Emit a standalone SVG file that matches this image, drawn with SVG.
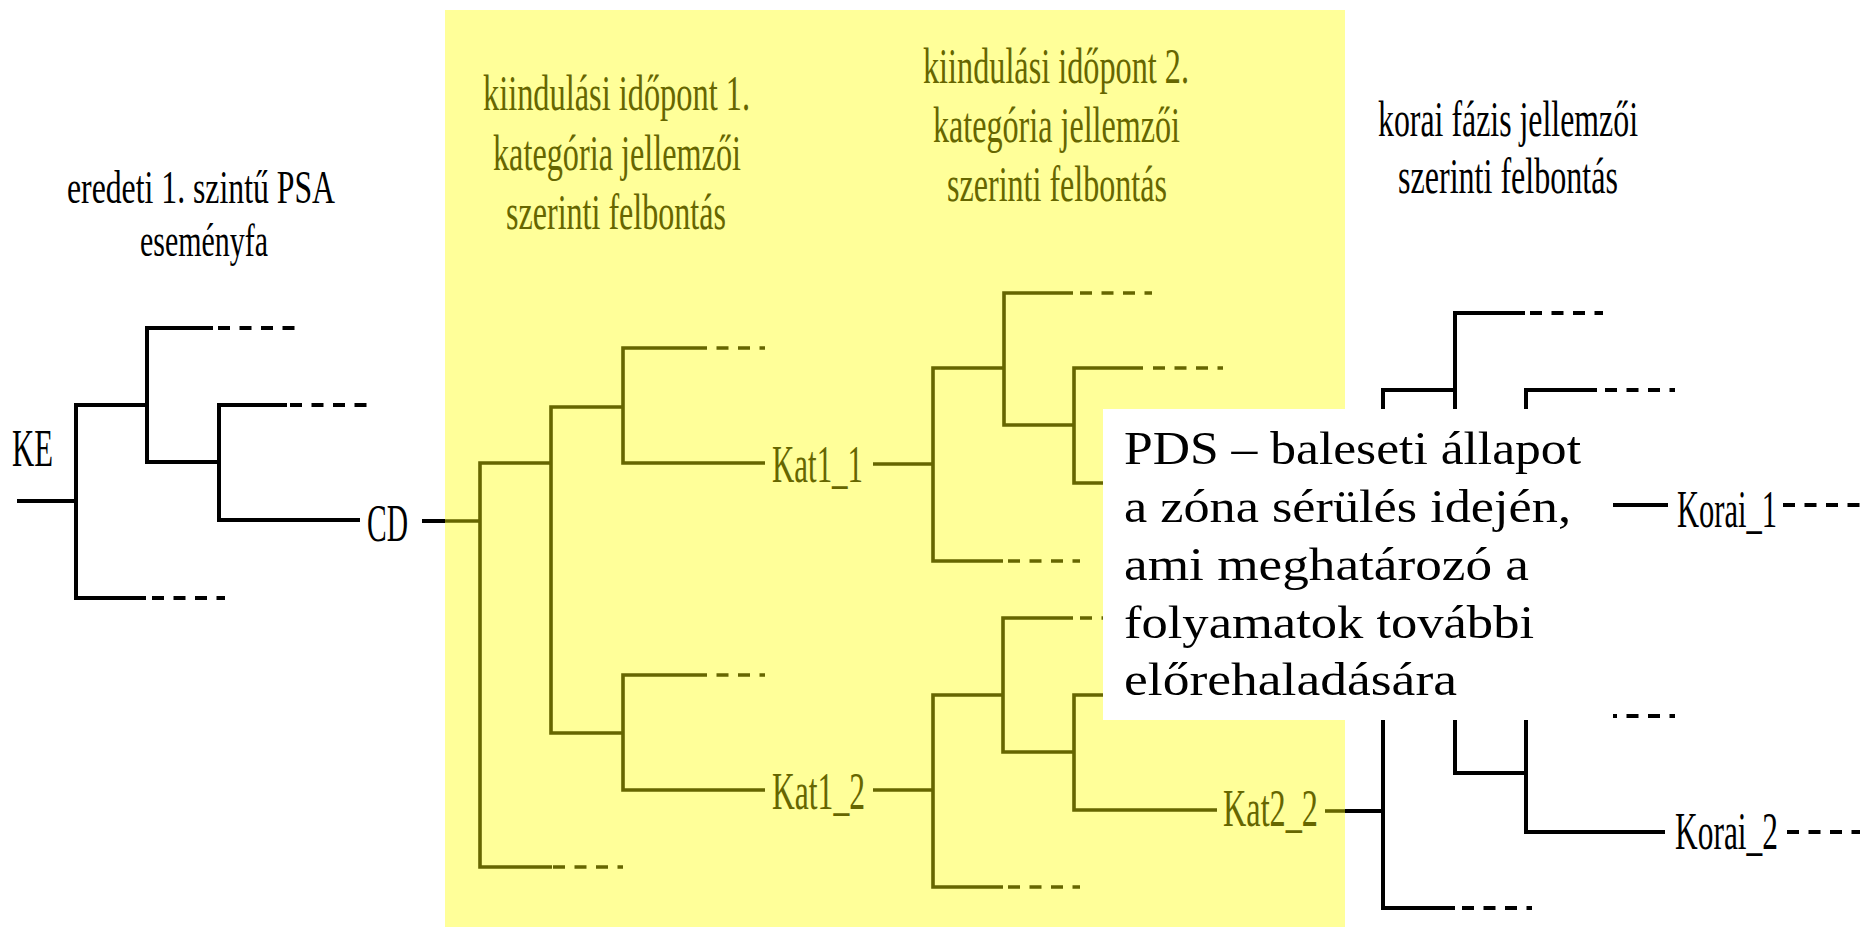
<svg xmlns="http://www.w3.org/2000/svg" width="1860" height="927" viewBox="0 0 1860 927">
<style>
  .k{fill:none;stroke:#000;stroke-width:4;stroke-linejoin:miter}
  .o{fill:none;stroke:#666600;stroke-width:3.6;stroke-linejoin:miter}
  .kd{fill:none;stroke:#000;stroke-width:4;stroke-dasharray:12 9.5}
  .od{fill:none;stroke:#666600;stroke-width:3.6;stroke-dasharray:12 9.5}
  text{font-family:"Liberation Serif","Times New Roman",serif}
  .tk{fill:#000}
  .to{fill:#666600}
  .title{font-size:51px}
  .lbl{font-size:53px}
  .box{font-size:47px;fill:#000}
</style>
<rect id="panel" x="445" y="10" width="900" height="917" fill="#FFFF99"/>

<g id="connectors">
  <!-- left black tree -->
  <path class="k" d="M17,501 H76"/>
  <path class="k" d="M147,405 H76 V598 H146"/>
  <path class="kd" d="M152,598 H225"/>
  <path class="k" d="M213,328 H147 V462 H219"/>
  <path class="kd" d="M218,328 H295"/>
  <path class="k" d="M287,405 H219 V520 H360"/>
  <path class="kd" d="M290,405 H367"/>
  <path class="k" d="M422,521 H445"/>
  <!-- olive tree 1 -->
  <path class="o" d="M445,521 H480"/>
  <path class="o" d="M551,463 H480 V867 H552"/>
  <path class="od" d="M553,867 H623"/>
  <path class="o" d="M623,407 H551 V733 H623"/>
  <path class="o" d="M695,348 H623 V463 H765"/>
  <path class="od" d="M695,348 H765"/>
  <path class="o" d="M695,675 H623 V790 H765"/>
  <path class="od" d="M695,675 H765"/>
  <path class="o" d="M873,464 H933"/>
  <path class="o" d="M873,790 H933"/>
  <!-- olive tree 2 upper -->
  <path class="o" d="M1004,368 H933 V561 H1003"/>
  <path class="od" d="M1008,561 H1080"/>
  <path class="o" d="M1073,293 H1004 V425 H1074"/>
  <path class="od" d="M1080,293 H1152"/>
  <path class="o" d="M1143,368 H1074 V483 H1110"/>
  <path class="od" d="M1153,368 H1223"/>
  <!-- olive tree 2 lower -->
  <path class="o" d="M1003,695 H933 V887 H1003"/>
  <path class="od" d="M1008,887 H1080"/>
  <path class="o" d="M1073,618 H1003 V752 H1074"/>
  <path class="od" d="M1080,618 H1152"/>
  <path class="o" d="M1110,695 H1074 V810 H1217"/>
  <path class="o" d="M1325,811 H1345"/>
  <!-- right black tree -->
  <path class="k" d="M1345,811 H1383"/>
  <path class="k" d="M1455,390 H1383 V908 H1455"/>
  <path class="kd" d="M1462,908 H1532"/>
  <path class="k" d="M1525,313 H1455 V773 H1526"/>
  <path class="kd" d="M1530,313 H1603"/>
  <path class="k" d="M1597,390 H1526 V832 H1665"/>
  <path class="kd" d="M1605,390 H1675"/>
  <path class="k" d="M1526,505 H1668"/>
  <path class="k" d="M1526,716 H1597"/>
  <path class="kd" d="M1605,716 H1675"/>
  <path class="kd" d="M1783,505 H1860"/>
  <path class="kd" d="M1787,832 H1860"/>
</g>

<g id="title-psa">
  <text class="tk" x="67" y="203" font-size="46" textLength="268" lengthAdjust="spacingAndGlyphs">eredeti 1. szintű PSA</text>
  <text class="tk" x="140" y="256" font-size="46" textLength="128" lengthAdjust="spacingAndGlyphs">eseményfa</text>
</g>
<g id="title-kat1">
  <text class="to title" x="483" y="110" textLength="267" lengthAdjust="spacingAndGlyphs">kiindulási időpont 1.</text>
  <text class="to title" x="493" y="170" textLength="248" lengthAdjust="spacingAndGlyphs">kategória jellemzői</text>
  <text class="to title" x="506" y="229" textLength="220" lengthAdjust="spacingAndGlyphs">szerinti felbontás</text>
</g>
<g id="title-kat2">
  <text class="to title" x="923" y="83" textLength="266" lengthAdjust="spacingAndGlyphs">kiindulási időpont 2.</text>
  <text class="to title" x="933" y="142" textLength="247" lengthAdjust="spacingAndGlyphs">kategória jellemzői</text>
  <text class="to title" x="947" y="201" textLength="220" lengthAdjust="spacingAndGlyphs">szerinti felbontás</text>
</g>
<g id="title-korai">
  <text class="tk title" x="1378" y="136" textLength="260" lengthAdjust="spacingAndGlyphs">korai fázis jellemzői</text>
  <text class="tk title" x="1398" y="193" textLength="220" lengthAdjust="spacingAndGlyphs">szerinti felbontás</text>
</g>

<g id="node-KE"><text class="tk lbl" x="12" y="466" textLength="41" lengthAdjust="spacingAndGlyphs">KE</text></g>
<g id="node-CD"><text class="tk lbl" x="367" y="541" textLength="41" lengthAdjust="spacingAndGlyphs">CD</text></g>
<g id="node-Kat1_1"><text class="to lbl" x="772" y="482" textLength="91" lengthAdjust="spacingAndGlyphs">Kat1_1</text></g>
<g id="node-Kat1_2"><text class="to lbl" x="772" y="809" textLength="93" lengthAdjust="spacingAndGlyphs">Kat1_2</text></g>
<g id="node-Kat2_2"><text class="to lbl" x="1223" y="826" textLength="95" lengthAdjust="spacingAndGlyphs">Kat2_2</text></g>
<g id="node-Korai_1"><text class="tk lbl" x="1677" y="527" textLength="100" lengthAdjust="spacingAndGlyphs">Korai_1</text></g>
<g id="node-Korai_2"><text class="tk lbl" x="1675" y="849" textLength="103" lengthAdjust="spacingAndGlyphs">Korai_2</text></g>

<g id="note-PDS">
  <rect x="1103" y="409" width="510" height="311" fill="#FFFFFF"/>
  <text class="box" x="1124" y="464" textLength="457" lengthAdjust="spacingAndGlyphs">PDS – baleseti állapot</text>
  <text class="box" x="1124" y="522" textLength="447" lengthAdjust="spacingAndGlyphs">a zóna sérülés idején,</text>
  <text class="box" x="1124" y="580" textLength="405" lengthAdjust="spacingAndGlyphs">ami meghatározó a</text>
  <text class="box" x="1124" y="638" textLength="410" lengthAdjust="spacingAndGlyphs">folyamatok további</text>
  <text class="box" x="1124" y="695" textLength="333" lengthAdjust="spacingAndGlyphs">előrehaladására</text>
</g>
</svg>
